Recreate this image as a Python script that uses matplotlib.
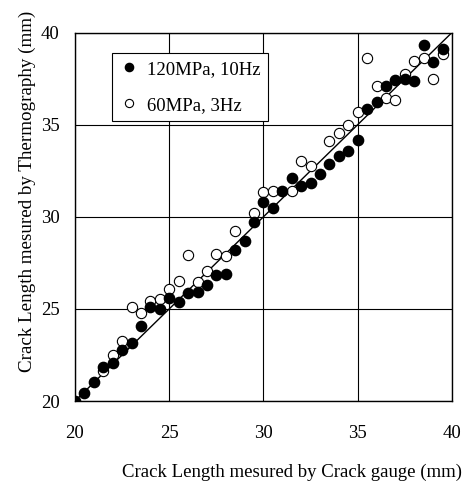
import matplotlib.pyplot as plt

plt.rcParams['font.family'] = ['Liberation Serif', 'DejaVu Serif']

# 120MPa, 10Hz (filled)
x_120 = [20.0, 20.5, 21.0, 21.5, 22.0, 22.5, 23.0, 23.5, 24.0, 24.5,
         25.0, 25.5, 26.0, 26.5, 27.0, 27.5, 28.0, 28.5, 29.0, 29.5,
         30.0, 30.5, 31.0, 31.5, 32.0, 32.5, 33.0, 33.5, 34.0, 34.5,
         35.0, 35.5, 36.0, 36.5, 37.0, 37.5, 38.0, 38.5, 39.0, 39.5]
y_120 = [20.0, 20.45, 21.05, 21.83, 22.08, 22.77, 23.13, 24.07, 25.12, 24.97,
         25.6, 25.39, 25.88, 25.9, 26.3, 26.84, 26.87, 28.2, 28.68, 29.69,
         30.81, 30.5, 31.4, 32.1, 31.65, 31.83, 32.3, 32.89, 33.31, 33.57,
         34.15, 35.83, 36.24, 37.09, 37.42, 37.45, 37.38, 39.3, 38.41, 39.08]

# 60MPa, 3Hz (open)
x_60 = [21.5, 22.0, 22.5, 23.0, 23.5, 24.0, 24.5, 25.0, 25.5, 26.0,
        26.5, 27.0, 27.5, 28.0, 28.5, 29.5, 30.0, 30.5, 31.5, 32.0,
        32.5, 33.5, 34.0, 34.5, 35.0, 35.5, 36.0, 36.5, 37.0, 37.5,
        38.0, 38.5, 39.0, 39.5]
y_60 = [21.62, 22.47, 23.25, 25.08, 24.79, 25.44, 25.53, 26.1, 26.5, 27.95,
        26.47, 27.05, 28.0, 27.88, 29.22, 30.18, 31.36, 31.4, 31.41, 33.0,
        32.74, 34.1, 34.56, 34.98, 35.7, 38.6, 37.09, 36.47, 36.33, 37.77,
        38.46, 38.62, 37.5, 38.86]

ticks = [20, 25, 30, 35, 40]

fig = plt.figure(figsize=(4.77, 4.82), dpi=100)
ax = fig.add_axes([75 / 477, 1 - 401 / 482, 377 / 477, 368.5 / 482])

ax.plot([20, 40], [20, 40], color='black', lw=1.0, zorder=2)
ax.plot(x_60, y_60, 'o', ms=7.4, mfc='white', mec='black', mew=0.8,
        zorder=3, label='60MPa, 3Hz')
ax.plot(x_120, y_120, 'o', ms=7.4, mfc='black', mec='black',
        zorder=4, label='120MPa, 10Hz')

ax.set_xlim(20, 40)
ax.set_ylim(20, 40)
ax.set_xticks(ticks)
ax.set_yticks(ticks)
ax.grid(True, color='black', lw=0.8)
ax.set_axisbelow(True)
ax.tick_params(length=0, labelsize=13.5)
ax.tick_params(axis='x', pad=17.5)
ax.tick_params(axis='y', pad=11)
for s in ax.spines.values():
    s.set_linewidth(1.0)

h, l = ax.get_legend_handles_labels()
leg = ax.legend(h[::-1], l[::-1], loc='upper left',
                bbox_to_anchor=(37 / 377, 1 - 20.5 / 368.5), borderaxespad=0,
                fontsize=13.5, markerscale=0.8, handlelength=1.0,
                handletextpad=0.46, borderpad=0.4, labelspacing=1.02,
                fancybox=False, framealpha=1, edgecolor='black')
leg.get_frame().set_linewidth(0.8)

fig.text(292 / 477, 1 - 472 / 482, 'Crack Length mesured by Crack gauge (mm)',
         ha='center', va='center', fontsize=13.5)
fig.text(27 / 477, 1 - 191 / 482, 'Crack Length mesured by Thermography (mm)',
         ha='center', va='center', rotation=90, fontsize=13.7)

fig.savefig('out.png', dpi=100)
